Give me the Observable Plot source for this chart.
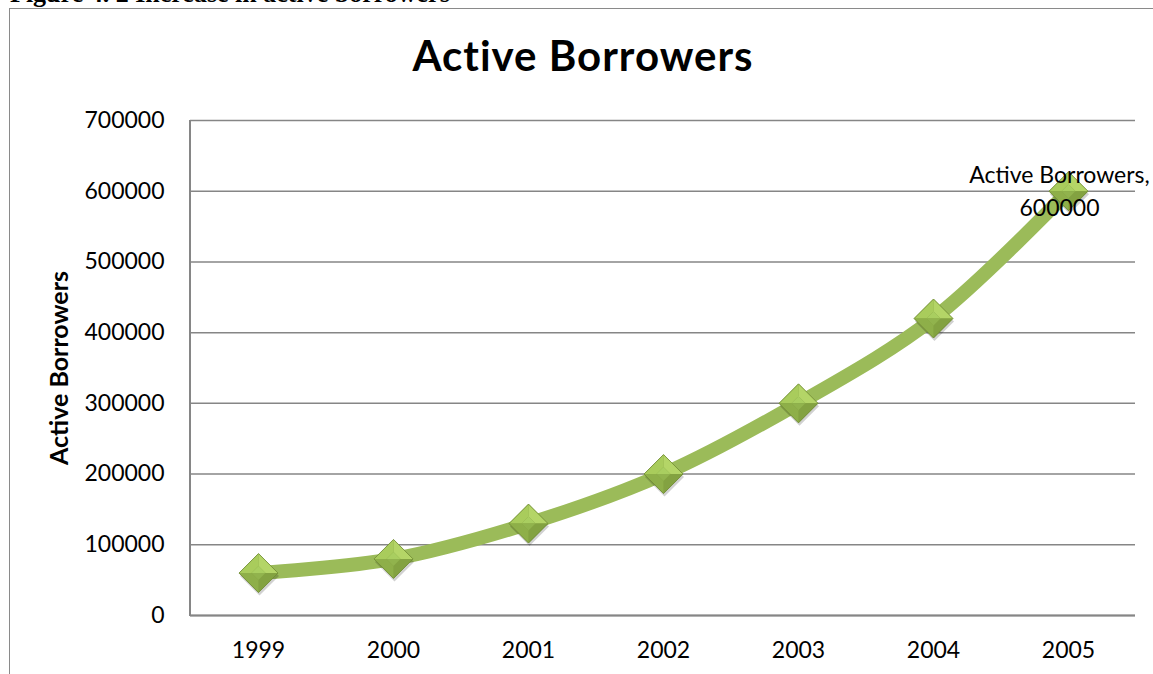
<!DOCTYPE html>
<html>
<head>
<meta charset="utf-8">
<script src="https://cdn.jsdelivr.net/npm/d3@7"></script>
<script src="https://cdn.jsdelivr.net/npm/@observablehq/plot@0.6"></script>
<style>
  html, body { margin: 0; padding: 0; background: #fff; }
  body { width: 1153px; height: 674px; overflow: hidden; position: relative; font-family: Lato, "Open Sans", sans-serif; }
  #cap { position: absolute; left: 10px; top: -19px; font: bold 26px/1 "Liberation Serif", "DejaVu Serif", serif; color: #000; white-space: nowrap; }
  #box { position: absolute; left: 9px; top: 8px; width: 1300px; height: 800px; border: 1px solid #8a8a8a; }
  #title { position: absolute; left: 0; width: 1166px; top: 34px; text-align: center; font: bold 42px/1 Lato, sans-serif; letter-spacing: 1px; color: #000; }
  #chart { position: absolute; left: 10px; top: 100px; }
  #chart svg { overflow: visible; }
  g[aria-label="y-axis label"] text { font-weight: bold; font-size: 25px; }
</style>
</head>
<body>
<div id="cap">Figure 4. 2 Increase in active borrowers</div>
<div id="box"></div>
<div id="title">Active Borrowers</div>
<div id="chart"></div>
<script>
const years = ["1999", "2000", "2001", "2002", "2003", "2004", "2005"];
const borrowers = [60000, 80000, 130000, 200000, 300000, 420000, 600000];
const yTicks = [0, 100000, 200000, 300000, 400000, 500000, 600000, 700000];
const seriesName = "Active Borrowers";

const data = years.map((year, i) => ({year, value: borrowers[i]}));
const last = data[data.length - 1];

// Diamond facets (pyramid look) as custom symbols
const R = 19.5;
function facet(points) {
  return {draw(ctx, size) {
    ctx.moveTo(points[0][0], points[0][1]);
    for (let k = 1; k < points.length; k++) ctx.lineTo(points[k][0], points[k][1]);
    ctx.closePath();
  }};
}
const r0 = 7; // inner flat face half-size
const T = [0, -R], Rt = [R, 0], B = [0, R], L = [-R, 0];
const it = [0, -r0], ir = [r0, 0], ib = [0, r0], il = [-r0, 0];
const symOuter = facet([T, Rt, B, L]);
const symTopL = facet([L, T, it, il]);
const symTopR = facet([T, Rt, ir, it]);
const symBotR = facet([Rt, B, ib, ir]);
const symBotL = facet([B, L, il, ib]);
const symInnerTop = facet([il, it, ir]);
const symInnerBot = facet([il, ib, ir]);

const dotMark = (symbol, fill, extra = {}) =>
  Plot.dot(data, {x: "year", y: "value", symbol: () => symbol, r: 1, fill, stroke: "none", ...extra});

const chart = Plot.plot({
  width: 1143,
  height: 574,
  marginLeft: 180,
  marginRight: 18,
  marginTop: 20,
  marginBottom: 59,
  style: {fontFamily: "Lato, 'Open Sans', sans-serif", fontSize: "23px", color: "#000", background: "transparent", overflow: "visible"},
  x: {type: "point", domain: years, padding: 0.5, label: null},
  y: {domain: [0, 700000], label: null},
  marks: [
    Plot.gridY(yTicks, {stroke: "#868686", strokeOpacity: 1, strokeWidth: 1.5}),
    Plot.axisY({ticks: yTicks, tickFormat: d => String(d), tickSize: 0, tickPadding: 26, label: seriesName, labelAnchor: "center", labelArrow: "none", labelOffset: 140, fill: "#000"}),
    Plot.axisX({tickSize: 0, tickPadding: 26, label: null, fill: "#000"}),
    Plot.ruleY([0], {stroke: "#868686", strokeWidth: 2}),
    Plot.line(data, {x: "year", y: "value", stroke: "#9bbb59", strokeWidth: 14, curve: "catmull-rom", strokeLinecap: "round"}),
    // shadow
    dotMark(symOuter, "#000", {fillOpacity: 0.18, dy: 3, dx: 1}),
    dotMark(symOuter, "#7f9c3f"),
    dotMark(symTopL, "#a9cc5c"),
    dotMark(symTopR, "#b4d567"),
    dotMark(symBotR, "#83a241"),
    dotMark(symBotL, "#8eaf49"),
    dotMark(symInnerTop, "#a9ce60"),
    dotMark(symInnerBot, "#91b34d"),
    dotMark(symOuter, "none", {stroke: "#6e8a34", strokeWidth: 0.8}),
    Plot.text([last], {x: "year", y: "value", text: d => `${seriesName},\n${d.value}`, dx: -9, dy: -2, lineHeight: 1.43, textAnchor: "middle", fill: "#000", fontSize: 23})
  ]
});

document.getElementById("chart").appendChild(chart);
const svg = d3.select(chart);
// left frame line of the plot area
svg.append("line").attr("x1", 180).attr("x2", 180).attr("y1", 20).attr("y2", 574 - 59 + 1).attr("stroke", "#868686").attr("stroke-width", 2);
svg.selectAll('g[aria-label="text"]').raise();
</script>
</body>
</html>
